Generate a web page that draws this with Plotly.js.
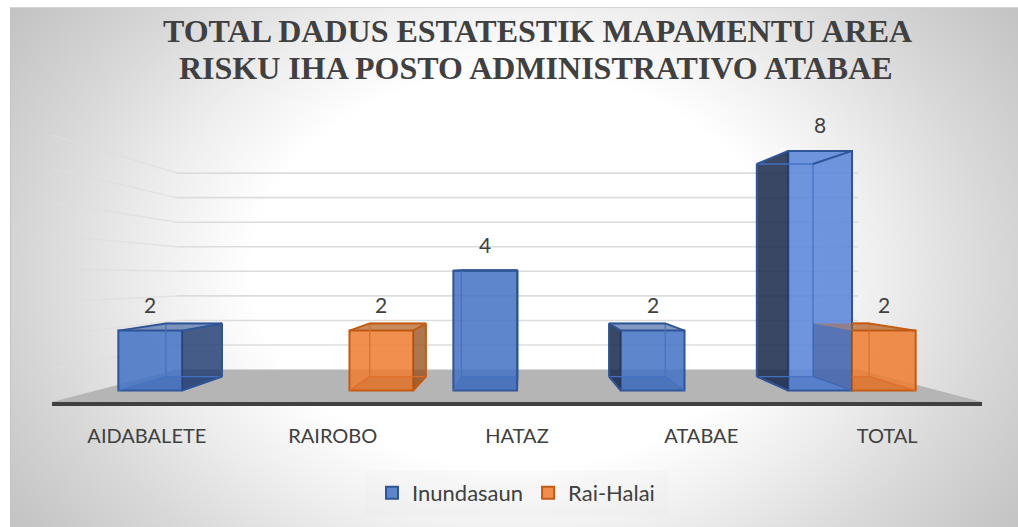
<!DOCTYPE html>
<html>
<head>
<meta charset="utf-8">
<script src="https://cdn.plot.ly/plotly-3.0.1.min.js"></script>
<style>
html,body{margin:0;padding:0;background:#fff;width:1018px;height:527px;overflow:hidden}
#bg{position:absolute;left:10px;top:7px;width:1008px;height:520px;box-sizing:border-box;border-left:1px solid #c4c4c4;border-top:1px solid #d4d4d4;
background:radial-gradient(ellipse 640px 480px at 505px 262px,#ffffff 0%,#ffffff 41%,#eeeeee 57%,#d9d9d9 74%,#c8c8c8 90%,#bfbfbf 100%)}
#chart{position:absolute;left:0;top:0;width:1018px;height:527px}
</style>
</head>
<body>
<div id="bg"></div>
<div id="chart"></div>
<script>
// ---- data ----
const categories = ["AIDABALETE", "RAIROBO", "HATAZ", "ATABAE", "TOTAL"];
const inundasaun = [2, null, 4, 2, 8];
const raiHalai = [null, 2, null, null, 2];
const wallGridValues = [1, 2, 3, 4, 5, 6, 7, 8];
const labelShift = [-0.21, -0.1, 0, 0.1, 0.21];
const titleLines = ["TOTAL DADUS ESTATESTIK MAPAMENTU AREA", "RISKU IHA POSTO ADMINISTRATIVO ATABAE"];

// ---- layout constants ----
const W = 1018, H = 527;
const mL = 52, mR = 36, mT = 100, mB = 124.5;
const xRange = [-0.776, 4.776];
const yRange = [-0.3833, 9.7];
const halfBar = 0.19, barShiftAbs = 0.19;

const vanishP = 2.024, depthS = 0.882;
const backP = p => vanishP + depthS * (p - vanishP);
const backV = v => 0.467 + 0.887 * v;
const wallV = v => 0.7 + 0.82 * v;
const sideV = v => yRange[0] + 1.113 * v;
const wallL = -0.03, wallR = 4.036;

const BLUE = {edge:"#2f5597", inner:"rgba(68,114,196,0.95)", left:"rgba(30,44,78,0.88)", right:"rgba(32,58,112,0.82)",
              top:"rgba(47,85,151,0.60)", floor:"rgba(60,100,180,0.30)"};
const ORANGE = {edge:"#c55a11", inner:"rgba(222,110,40,0.95)", left:"rgba(40,50,95,0.32)", right:"rgba(150,80,30,0.78)",
              top:"rgba(175,90,25,0.70)", floor:"rgba(200,100,35,0.30)"};

const xs = categories.map((_, i) => i);
const blueFill = inundasaun.map(v => v !== null && v > 4 ? "rgba(90,134,216,0.88)" : "rgba(68,114,196,0.86)");

function boxFaces(values, offset, style, clipX) {
  const lf = {x:[], y:[]}, rf = {x:[], y:[]}, top = {x:[], y:[]}, floor = {x:[], y:[]}, wire = {x:[], y:[]}, rim = {x:[], y:[]}, hid = {x:[], y:[]};
  const add = (t, pts) => { pts.forEach(q => { t.x.push(q[0]); t.y.push(q[1]); }); t.x.push(null); t.y.push(null); };
  values.forEach((v, i) => {
    if (v === null) return;
    const a = xs[i] + offset - halfBar, b = xs[i] + offset + halfBar;
    const A = backP(a), B = backP(b), V = backV(v), Z = backV(0);
    const clip = clipX ? clipX[i] : null;
    const L = clip !== null ? clip : A;
    if (A < a) add(lf, [[a,0],[a,v],[A,V],[A,Z],[a,0]]);
    if (B > b) add(rf, [[b,0],[b,v],[B,V],[B,Z],[b,0]]);
    if (V > v) {
      if (clip !== null) {
        add(top, [[a,v],[b,v],[B,V],[L,V],[a,v]]);
        add(hid, [[A,V],[L,V],[a,v],[A,V]]);
      } else add(top, [[a,v],[b,v],[B,V],[A,V],[a,v]]);
    }
    add(floor, clip !== null ? [[a,0],[b,0],[B,Z],[L,Z],[a,0]] : [[a,0],[b,0],[B,Z],[A,Z],[a,0]]);
    if (clip !== null) {
      add(wire, [[L,V],[B,V],[B,Z],[L,Z]]);
    } else {
      add(wire, [[A,Z],[A,V],[B,V],[B,Z],[A,Z]]);
      add(wire, [[a,0],[A,Z]]);
      add(rim, [[a,v],[A,V]]);
    }
    add(wire, [[b,0],[B,Z]]);
    add(rim, [[b,v],[B,V]]);
    if (A < a && clip === null) { add(rim, [[A,Z],[A,V]]); add(rim, [[a,0],[A,Z]]); }
    if (B > b) { add(rim, [[B,Z],[B,V]]); add(rim, [[b,0],[B,Z]]); }
    if (V > v) add(rim, [[L,V],[B,V]]);
  });
  const poly = (t, fill) => ({x:t.x, y:t.y, type:"scatter", mode:"none", fill:"toself", fillcolor:fill,
    hoverinfo:"skip", showlegend:false, cliponaxis:false});
  const line = (t, col, w) => ({x:t.x, y:t.y, type:"scatter", mode:"lines", line:{color:col, width:w},
    connectgaps:false, hoverinfo:"skip", showlegend:false, cliponaxis:false});
  return [poly(floor, style.floor), poly(top, style.top), poly(lf, style.left), poly(rf, style.right),
          poly(hid, "rgba(175,110,70,0.55)"), line(wire, style.inner, 1.3), line(rim, style.edge, 2)];
}

const orangeClip = xs.map(i => (inundasaun[i] !== null && raiHalai[i] !== null) ? i : null);
const traces = [
  {name:"Inundasaun", x:xs, y:inundasaun, type:"bar", hoverinfo:"y",
   marker:{color:blueFill, line:{color:BLUE.edge, width:2}}},
  {name:"Rai-Halai", x:xs, y:raiHalai, type:"bar", hoverinfo:"y",
   marker:{color:"rgba(237,125,49,0.86)", line:{color:ORANGE.edge, width:2}}},
  ...boxFaces(inundasaun, -barShiftAbs, BLUE, null),
  ...boxFaces(raiHalai, barShiftAbs, ORANGE, orangeClip)
];

const shapes = [];
wallGridValues.forEach(v => {
  shapes.push({type:"line", layer:"below", xref:"x", yref:"y",
    x0:xRange[0], y0:sideV(v), x1:wallL, y1:wallV(v), line:{color:"rgba(222,222,222,0.75)", width:1.5}});
  shapes.push({type:"line", layer:"below", xref:"x", yref:"y",
    x0:wallL, y0:wallV(v), x1:wallR, y1:wallV(v), line:{color:"#dcdcdc", width:1.6}});
});
shapes.push({type:"path", layer:"below", xref:"x", yref:"y",
  path:`M${xRange[0]},${yRange[0]} L${wallL},${wallV(0)} L${wallR},${wallV(0)} L${xRange[1]},${yRange[0]} Z`,
  fillcolor:"#b5b5b5", line:{width:0}});
const px2x = p => (p - mL) / (W - mL - mR);
const py2y = p => (H - mB - p) / (H - mT - mB);
shapes.push({type:"rect", layer:"below", xref:"paper", yref:"paper",
  x0:px2x(365), x1:px2x(668), y0:py2y(516), y1:py2y(471),
  fillcolor:"rgba(225,225,225,0.15)", line:{width:0}});

const labelFont = {family:"Lato, Carlito, sans-serif", size:21, color:"#404040"};
const annotations = [];
const pushLabels = (vals, off) => vals.forEach((v, i) => {
  if (v === null) return;
  annotations.push({x:xs[i] + off, y:v, text:String(v), showarrow:false, xanchor:"center", yanchor:"middle",
    yshift:26, font:labelFont});
});
pushLabels(inundasaun, -barShiftAbs);
pushLabels(raiHalai, barShiftAbs);
const titleFont = {family:"Liberation Serif, serif", size:32, color:"#404040", weight:"bold"};
annotations.push({xref:"paper", yref:"paper", x:px2x(536), y:py2y(68), text:titleLines[1], showarrow:false,
  xanchor:"center", yanchor:"middle", font:titleFont});

const layout = {
  width:W, height:H,
  paper_bgcolor:"rgba(0,0,0,0)", plot_bgcolor:"rgba(0,0,0,0)",
  margin:{l:mL, r:mR, t:mT, b:mB, autoexpand:false, pad:0},
  title:{text:titleLines[0], font:titleFont,
    x:537.5/W, xref:"container", xanchor:"center", y:1-31/H, yref:"container", yanchor:"middle"},
  barmode:"group", bargap:0.24, bargroupgap:0,
  showlegend:true,
  legend:{orientation:"h", xref:"container", yref:"container", x:372/W, xanchor:"left", y:1-493/H, yanchor:"middle",
    bgcolor:"rgba(0,0,0,0)", font:{family:"Lato, Carlito, sans-serif", size:22, color:"#404040"}, traceorder:"normal"},
  xaxis:{type:"linear", range:xRange, tickmode:"array", tickvals:xs.map((x,i)=>x+labelShift[i]), ticktext:categories,
    ticks:"", ticklabelstandoff:13, showgrid:false, zeroline:false, showline:true, linecolor:"#404040", linewidth:4,
    tickfont:{family:"Lato, Carlito, sans-serif", size:20, color:"#404040"}, fixedrange:true},
  yaxis:{range:yRange, visible:false, showgrid:false, zeroline:false, fixedrange:true},
  shapes, annotations
};
Plotly.newPlot("chart", traces, layout, {displayModeBar:false, responsive:false});
</script>
</body>
</html>
